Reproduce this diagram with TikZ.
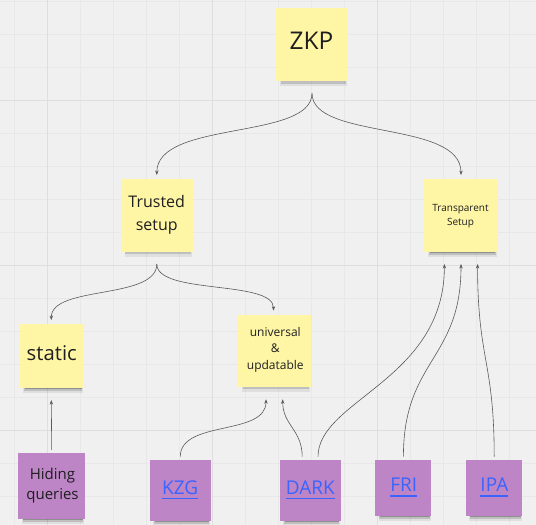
\documentclass[tikz,border=0pt]{standalone}
\usepackage{fontspec}
\setmainfont{Open Sans}
\usetikzlibrary{shadows,arrows.meta}
\definecolor{bgcol}{RGB}{240,240,240}
\definecolor{gridminor}{RGB}{232,232,232}
\definecolor{gridmajor}{RGB}{222,222,222}
\definecolor{stickyY}{RGB}{255,246,165}
\definecolor{stickyP}{RGB}{189,133,198}
\definecolor{ink}{RGB}{30,30,32}
\definecolor{linkblue}{RGB}{58,100,255}
\definecolor{wirecol}{RGB}{90,90,90}
\newcommand\mylink[1]{\setbox0\hbox{#1}\rlap{\color{linkblue}\rule[-5pt]{\wd0}{1.3pt}}\box0}
\tikzset{
  notebox/.style={inner sep=0pt, outer sep=0pt, draw=none,
    general shadow={fill=black, opacity=0.07, shadow scale=0.93, shadow xshift=1.5pt, shadow yshift=-8pt},
    general shadow={fill=black, opacity=0.14, shadow scale=0.91, shadow xshift=1.5pt, shadow yshift=-6.5pt},
    general shadow={fill=black, opacity=0.25, shadow scale=0.89, shadow xshift=1.5pt, shadow yshift=-5pt}},
  yellownote/.style={notebox, fill=stickyY},
  purplenote/.style={notebox, fill=stickyP},
  notetext/.style={text=ink, inner sep=0pt, align=center},
  linktext/.style={text=linkblue, inner sep=0pt, font=\fontsize{19}{23}\selectfont},
  conn/.style={draw=wirecol, line width=0.6pt, -{Stealth[length=4.5pt,width=3.4pt]}},
}
\begin{document}
\begin{tikzpicture}[x=1pt, y=-1pt]
\useasboundingbox (0,0) rectangle (536,525);
\fill[bgcol] (0,0) rectangle (536,525);
% grid
\foreach \i in {0,...,15} {
  \draw[gridminor, line width=0.8pt] ({14.7+33*\i},0) -- ({14.7+33*\i},525);
}
\foreach \j in {0,...,15} {
  \draw[gridminor, line width=0.8pt] (0,{1+33*\j}) -- (536,{1+33*\j});
}
\foreach \i in {1,6,11} {
  \draw[gridmajor, line width=1pt] ({14.7+33*\i},0) -- ({14.7+33*\i},525);
}
\foreach \j in {3,8,13} {
  \draw[gridmajor, line width=1pt] (0,{1+33*\j}) -- (536,{1+33*\j});
}

% notes
\node[yellownote, minimum width=72pt, minimum height=73pt] (zkp) at (312,44.5) {};
\node[yellownote, minimum width=72.3pt, minimum height=72.4pt] (trusted) at (156.8,215.5) {};
\node[yellownote, minimum width=73.4pt, minimum height=73pt] (trans) at (461,215.8) {};
\node[yellownote, minimum width=64pt, minimum height=63.7pt] (static) at (51.8,355.9) {};
\node[yellownote, minimum width=72.7pt, minimum height=71.7pt] (univ) at (274.7,350.8) {};
\node[purplenote, minimum width=66.7pt, minimum height=66.7pt] (hiding) at (51.7,486) {};
\node[purplenote, minimum width=60.7pt, minimum height=60.7pt] (kzg) at (180.3,490.3) {};
\node[purplenote, minimum width=60.7pt, minimum height=61pt] (dark) at (310.3,490.5) {};
\node[purplenote, minimum width=56pt, minimum height=56pt] (fri) at (403.4,488) {};
\node[purplenote, minimum width=56.4pt, minimum height=56pt] (ipa) at (494.2,488) {};

% texts
\node[notetext, anchor=base, font=\fontsize{24.4}{30}\selectfont] (zkpT) at (311.5,49.3) {ZKP};
\node[notetext, font=\fontsize{16}{22.3}\selectfont] (trustedT) at (156.7,214.7) {Trusted\\setup};
\node[notetext, font=\fontsize{10}{13.3}\selectfont] (transT) at (460.5,216) {Transparent\\Setup};
\node[notetext, anchor=base, font=\fontsize{20.3}{25}\selectfont] (staticT) at (51.8,360.7) {static};
\node[notetext, font=\fontsize{12}{16.5}\selectfont] (univT) at (275.3,349.4) {universal\\\&\\updatable};
\node[notetext, font=\fontsize{15}{20.7}\selectfont] (hidingT) at (52.5,485.7) {Hiding\\queries};
\node[linktext, anchor=base] (kzgT) at (180.2,494.3) {\mylink{KZG}};
\node[linktext, anchor=base] (darkT) at (310.3,494.2) {\mylink{DARK}};
\node[linktext, anchor=base] (friT) at (403.7,491.7) {\mylink{FRI}};
\node[linktext, anchor=base] (ipaT) at (494.4,491.7) {\mylink{IPA}};

% connectors
\draw[conn] ([yshift=-12.3pt]zkp.south) .. controls +(0,47) and +(0,-55) .. ([yshift=4.3pt]trusted.north);
\draw[conn] ([yshift=-12.3pt]zkp.south) .. controls +(0,47) and +(0,-55) .. ([yshift=4.3pt]trans.north);
\draw[conn] ([yshift=-12.3pt]trusted.south) .. controls +(0,36) and +(0,-35) .. ([xshift=-0.5pt,yshift=4pt]static.north);
\draw[conn] ([yshift=-12.3pt]trusted.south) .. controls +(0,31) and +(0,-31) .. ([xshift=-1.2pt,yshift=4.3pt]univ.north);
\draw[conn] ([yshift=2.7pt]hiding.north) -- ([xshift=-0.5pt,yshift=-12.3pt]static.south);
\draw[conn] ([yshift=3.3pt]kzg.north) .. controls +(0,-37) and +(0,37) .. ([xshift=-8.7pt,yshift=-12.6pt]univ.south);
\draw[conn] ([xshift=-8.1pt,yshift=3.3pt]dark.north) .. controls +(0,-27) and +(0,26) .. ([xshift=8pt,yshift=-12.6pt]univ.south);
\draw[conn] ([xshift=7.7pt,yshift=3.3pt]dark.north) .. controls +(0,-56.7) and +(0,116) .. ([xshift=-16.6pt,yshift=-11.7pt]trans.south);
\draw[conn] ([yshift=3.3pt]fri.north) .. controls +(0,-97) and +(0,96) .. ([yshift=-11.7pt]trans.south);
\draw[conn] ([yshift=3.3pt]ipa.north) .. controls +(0,-96) and +(0,96) .. ([xshift=16.6pt,yshift=-11.7pt]trans.south);
\end{tikzpicture}
\end{document}
